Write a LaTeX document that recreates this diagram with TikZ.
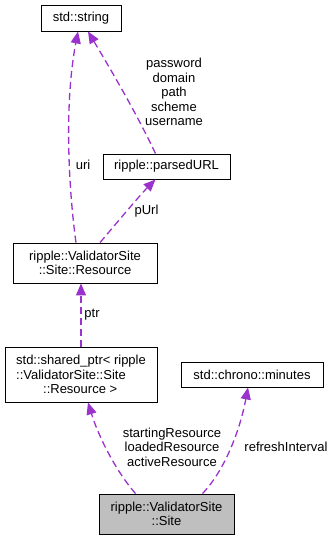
\documentclass[tikz,border=0pt]{standalone}
\usepackage{fontspec}
\setmainfont{Liberation Sans}
\usetikzlibrary{arrows.meta}

\definecolor{usecol}{RGB}{154,50,205}
\definecolor{selfcol}{RGB}{191,191,191}

\begin{document}
\begin{tikzpicture}[x=1pt,y=-1pt,
  font=\fontsize{13}{14.5}\selectfont,
  cls/.style={draw,line width=0.9pt,inner sep=0pt,align=center},
  use/.style={usecol,line width=1.3pt,dash pattern=on 7pt off 4pt,
    -{Triangle[length=12pt,width=10pt]}},
  lbl/.style={inner sep=0pt,align=center}]
\useasboundingbox (0,0) rectangle (335,541);

% classes
\node [cls,minimum width=80pt,minimum height=26pt] (str) at (81,18) {std::string};
\node [cls,minimum width=127pt,minimum height=25pt] (url) at (166.5,166.5) {ripple::parsedURL};
\node [cls,minimum width=144pt,minimum height=40pt] (res) at (85,263)
  {ripple::ValidatorSite\\::Site::Resource};
\node [cls,minimum width=152pt,minimum height=55pt,align=left] (shptr) at (81,374.5)
  {std::shared\_ptr< ripple\\::ValidatorSite::Site\\\hspace*{27pt}::Resource >};
\node [cls,minimum width=142pt,minimum height=25pt] (mins) at (252,374.5) {std::chrono::minutes};
\node [cls,fill=selfcol,minimum width=135pt,minimum height=40pt] (site) at (166.5,514)
  {ripple::ValidatorSite\\::Site};

% members
\draw [use] ([xshift=-9pt]res.north) .. controls (70,200) and (63,110) .. ([xshift=-3pt]str.south);
\draw [use] ([xshift=-11pt]url.north) .. controls (135,110) and (105,60) .. ([xshift=7pt]str.south);
\draw [use] ([xshift=15pt]res.north) .. controls (115,225) and (140,195) .. ([xshift=-11pt]url.south);
\draw [use] (shptr.north) -- ([xshift=-4pt]res.south);
\draw [use] ([xshift=-31pt]site.north) .. controls (115,470) and (98,435) .. ([xshift=7pt]shptr.south);
\draw [use] ([xshift=36pt]site.north) .. controls (225,470) and (240,430) .. ([xshift=-4pt]mins.south);

% member names
\node [lbl] (ustr) at (83,165) {uri};
\node [lbl] (ulab) at (174,92) {password\\domain\\path\\scheme\\username};
\node [lbl] (plab) at (146.5,211) {pUrl};
\node [lbl] (rlab) at (92,315) {ptr};
\node [lbl] (slab) at (172,447) {startingResource\\loadedResource\\activeResource};
\node [lbl] (mlab) at (286,447) {refreshInterval};
\end{tikzpicture}
\end{document}
